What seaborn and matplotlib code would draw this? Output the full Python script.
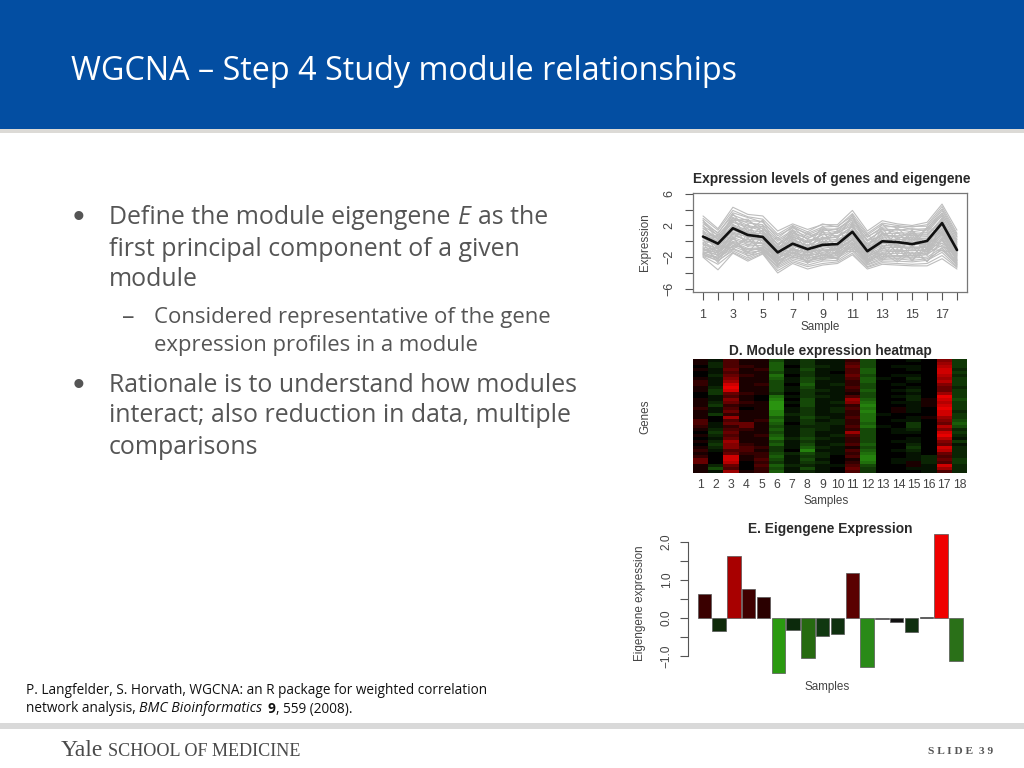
import numpy as np
import pandas as pd
import seaborn as sns
import matplotlib.pyplot as plt
from matplotlib.colors import LinearSegmentedColormap
from matplotlib.patches import Rectangle

# dados
samples = list(range(1, 19))
eigengene_line = [0.6, -0.3, 1.65, 0.8, 0.55, -1.4, -0.3, -1.0, -0.45, -0.35, 1.2, -1.25, 0.0, -0.1, -0.35, 0.05, 2.3, -1.1]
eigengene_bars = [0.63, -0.35, 1.63, 0.75, 0.55, -1.45, -0.32, -1.05, -0.47, -0.42, 1.18, -1.28, -0.03, -0.11, -0.38, 0.03, 2.2, -1.12]
bar_colors = ['#3a0000', '#0f2a0a', '#a80000', '#3f0000', '#2a0000', '#2a9a10', '#0c2a0c', '#266a10', '#103810',
              '#0f300f', '#5a0000', '#2a8a18', '#222222', '#111111', '#0f2f0f', '#000000', '#f00000', '#2a7018']

gene_rows = [
    [3.2, 1.6, 4.3, 3.4, 3.2, 1.3, 2.2, 1.5, 2.1, 2.1, 3.9, 1.3, 2.6, 2.2, 2.0, 2.4, 4.7, 1.4],
    [2.9, 1.4, 3.9, 3.1, 2.8, 0.9, 2.0, 1.2, 2.2, 1.8, 3.5, 1.0, 2.3, 2.0, 1.8, 2.1, 4.4, 1.0],
    [2.6, 1.0, 3.6, 3.0, 2.4, 0.7, 1.7, 1.0, 1.8, 1.9, 3.2, 0.8, 2.1, 1.7, 1.9, 1.9, 4.1, 0.8],
    [2.2, 1.1, 3.3, 2.6, 2.5, 0.4, 1.9, 0.8, 1.6, 1.5, 3.0, 0.5, 1.8, 1.9, 1.5, 1.6, 3.9, 0.5],
    [2.4, 0.7, 3.0, 2.3, 2.1, 0.2, 1.4, 0.6, 1.3, 1.6, 2.7, 0.6, 1.6, 1.4, 1.6, 1.3, 3.6, 0.2],
    [1.9, 0.8, 2.7, 2.5, 1.8, 0.0, 1.2, 0.3, 1.5, 1.2, 2.5, 0.2, 1.3, 1.5, 1.2, 1.5, 3.2, 0.0],
    [1.6, 0.4, 2.9, 2.0, 1.6, -0.3, 1.0, 0.4, 1.1, 1.0, 2.3, 0.0, 1.5, 1.1, 1.0, 1.1, 3.3, -0.2],
    [1.7, 0.2, 2.4, 1.7, 1.9, -0.5, 0.8, 0.0, 0.8, 1.1, 2.0, -0.3, 1.0, 1.0, 0.7, 0.8, 2.9, -0.4],
    [1.3, 0.3, 2.5, 1.9, 1.3, -0.4, 0.6, -0.2, 0.9, 0.7, 1.8, -0.5, 0.8, 0.7, 0.9, 0.9, 2.6, -0.6],
    [1.0, -0.1, 2.1, 1.4, 1.2, -0.8, 0.5, -0.1, 0.5, 0.5, 1.9, -0.6, 0.9, 0.5, 0.5, 0.6, 2.7, -0.8],
    [1.2, -0.4, 1.9, 1.2, 0.9, -0.9, 0.2, -0.5, 0.3, 0.6, 1.5, -0.8, 0.5, 0.6, 0.2, 0.3, 2.3, -1.0],
    [0.7, -0.2, 2.0, 1.0, 1.0, -1.1, 0.3, -0.6, 0.4, 0.2, 1.3, -1.0, 0.3, 0.2, 0.3, 0.4, 2.1, -0.9],
    [0.4, -0.6, 1.7, 1.1, 0.6, -1.0, 0.0, -0.8, 0.0, 0.0, 1.4, -1.2, 0.1, 0.3, -0.1, 0.0, 1.9, -1.2],
    [0.5, -0.8, 1.4, 0.7, 0.7, -1.3, -0.2, -0.9, -0.2, 0.1, 1.0, -1.1, -0.1, -0.1, -0.3, -0.2, 1.7, -1.3],
    [0.1, -0.5, 1.2, 0.5, 0.3, -1.5, -0.4, -1.1, -0.4, -0.3, 0.9, -1.4, -0.3, -0.2, -0.5, -0.1, 1.5, -1.5],
    [-0.1, -1.0, 1.0, 0.6, 0.1, -1.4, -0.6, -1.0, -0.6, -0.4, 0.7, -1.6, -0.2, -0.5, -0.4, -0.4, 1.2, -1.6],
    [-0.4, -0.9, 0.7, 0.2, 0.2, -1.8, -0.5, -1.3, -0.7, -0.7, 0.8, -1.5, -0.5, -0.6, -0.8, -0.6, 1.3, -1.8],
    [-0.3, -1.3, 0.9, 0.0, -0.2, -1.7, -0.9, -1.5, -0.9, -0.6, 0.5, -1.8, -0.7, -0.8, -0.7, -0.8, 1.0, -1.7],
    [-0.7, -1.2, 0.5, -0.2, -0.3, -2.0, -1.0, -1.4, -1.1, -0.9, 0.3, -2.0, -0.9, -0.7, -1.0, -0.7, 0.8, -2.0],
    [-0.9, -1.5, 0.3, -0.4, -0.6, -2.2, -1.1, -1.7, -1.2, -1.1, 0.1, -1.9, -1.1, -1.1, -1.2, -1.0, 0.6, -2.1],
    [-1.1, -1.4, 0.0, -0.6, -0.5, -2.1, -1.3, -1.9, -1.4, -1.0, 0.2, -2.2, -1.2, -1.3, -1.1, -1.2, 0.4, -2.3],
    [-1.0, -1.8, -0.1, -0.9, -0.8, -2.4, -1.5, -1.8, -1.5, -1.4, -0.2, -2.3, -1.4, -1.2, -1.5, -1.3, 0.1, -2.2],
    [-1.3, -1.7, -0.3, -1.1, -1.0, -2.6, -1.4, -2.1, -1.7, -1.5, -0.1, -2.5, -1.6, -1.5, -1.6, -1.5, 0.2, -2.4],
    [-1.5, -2.0, -0.5, -1.0, -0.9, -2.5, -1.7, -2.2, -1.8, -1.7, -0.4, -2.4, -1.7, -1.8, -1.8, -1.7, -0.2, -2.6],
    [-1.4, -2.2, -0.6, -1.4, -1.2, -2.8, -1.9, -2.4, -2.0, -1.8, -0.6, -2.7, -1.9, -1.9, -2.0, -1.6, -0.5, -2.7],
    [-1.7, -2.1, -0.9, -1.6, -1.1, -3.0, -2.0, -2.5, -2.1, -2.0, -0.7, -2.9, -2.1, -2.1, -2.1, -2.0, -0.8, -2.9],
    [-1.6, -2.5, -1.0, -1.8, -1.4, -3.2, -2.2, -2.7, -2.3, -2.1, -1.0, -3.0, -2.3, -2.2, -2.4, -2.2, -1.1, -3.0],
    [-1.8, -2.4, -1.2, -2.1, -1.3, -3.4, -2.4, -3.0, -2.5, -2.4, -1.2, -3.2, -2.5, -2.5, -2.6, -2.4, -1.4, -3.2],
    [-1.9, -2.9, -1.4, -2.3, -1.5, -3.7, -2.6, -3.2, -2.8, -2.6, -1.5, -3.3, -2.7, -2.8, -2.9, -2.8, -1.8, -3.3],
    [-2.0, -3.6, -1.5, -2.5, -1.6, -4.0, -2.8, -3.5, -3.0, -2.8, -1.7, -3.5, -2.9, -3.0, -3.1, -3.1, -2.2, -3.5],
    # linhas que se cruzam
    [2.0, -0.3, 3.5, 1.2, 2.7, -1.2, 1.5, -0.7, 1.9, 0.3, 3.4, -0.9, 2.2, 0.2, 1.4, -0.5, 3.0, -1.9],
    [-0.6, 0.9, 0.2, 2.2, -0.4, 0.5, -1.2, 1.1, -0.3, 1.4, -0.5, 0.9, -1.0, 1.2, -0.9, 1.8, 0.9, 0.3],
    [1.4, -1.6, 2.2, -0.7, 1.5, -2.7, 0.9, -2.3, 0.6, -1.6, 2.4, -2.6, 1.1, -1.7, 0.8, -1.8, 2.5, -2.8],
    [-1.2, -0.7, -0.8, 0.4, -1.3, -0.6, -1.6, 0.1, -1.9, -0.2, -0.9, -0.2, -2.0, 0.4, -1.9, 0.2, -0.3, -0.7],
    [0.9, 0.6, 1.5, 1.6, 0.0, -1.9, 1.3, -1.2, 1.2, -0.8, 1.2, -1.7, 1.7, -0.9, 1.1, -1.1, 1.6, -2.4],
    [-0.2, -2.7, 0.4, -1.5, 0.8, -3.1, -0.7, -2.8, -1.0, -2.3, 0.4, -2.8, -0.6, -2.4, -0.6, -2.6, 0.3, -3.1],
    [2.7, 0.1, 2.6, 2.8, 1.1, -0.7, 1.8, 0.2, 0.2, 1.3, 2.9, 0.1, 0.6, 1.7, 0.0, 1.7, 3.5, 0.6],
    [-1.5, -1.1, -0.2, -1.3, -0.7, -1.6, -2.1, -1.6, -2.4, -1.2, -1.3, -1.3, -2.4, -1.0, -2.3, -0.9, -1.2, -1.4],
    [0.2, -1.9, 1.1, -0.1, 1.4, -2.3, 0.1, -1.9, 0.1, -1.9, 1.6, -2.1, 0.4, -1.4, 0.4, -1.4, 1.1, -2.5],
    [-1.7, -0.5, -1.1, 0.9, -1.4, -1.2, -1.9, -0.4, -2.2, -0.5, -1.1, -0.7, -2.2, -0.3, -2.5, -0.3, -0.7, -1.3],
    [1.1, 0.0, 3.0, 0.3, 2.0, -1.7, 0.4, -1.5, 1.4, -1.3, 2.2, -1.5, 1.2, -0.6, 1.3, -0.9, 2.9, -1.6],
    [-0.8, -2.3, 0.6, -1.9, -0.9, -2.9, -1.4, -2.6, -1.6, -2.2, -0.3, -2.7, -1.5, -2.6, -1.4, -2.5, -0.9, -2.9],
]

heat_rows = [
    [1, -1, 3, 1, 1, -4, -1, -3, -1, -1, 2, -4, 0, 0, -1, 0, 5, -3],
    [1, -2, 3, 1, 1, -5, -1, -3, -1, -1, 3, -4, 0, 0, 0, 0, 6, -3],
    [0, -2, 3, 2, 1, -5, 0, -3, -2, -1, 4, -4, 0, -1, -1, 0, 7, -3],
    [1, -1, 4, 1, 2, -5, -1, -4, -1, -1, 3, -5, 0, 0, -1, 0, 8, -2],
    [0, -1, 3, 1, 1, -4, -1, -3, -1, 0, 3, -5, 0, 0, 0, 0, 8, -3],
    [0, -2, 4, 2, 1, -6, 0, -3, -1, -1, 4, -4, 0, -1, -1, 0, 7, -2],
    [1, -1, 5, 1, 1, -5, -1, -4, -2, -1, 3, -5, -1, 0, -2, 0, 6, -3],
    [2, -1, 6, 1, 1, -4, -1, -4, -1, -1, 2, -5, 0, 0, -1, 0, 7, -3],
    [2, -1, 8, 1, 2, -4, 0, -5, -1, -2, 2, -4, 0, -1, 0, 0, 5, -3],
    [1, -2, 9, 1, 1, -4, -1, -4, -1, -1, 3, -4, 0, 0, -1, 0, 4, -2],
    [1, -3, 8, 1, 1, -4, -1, -3, -2, -1, 2, -5, 0, -1, -2, 0, 4, -3],
    [0, -3, 4, 2, 1, -3, 0, -3, -1, -1, 1, -4, 0, 0, -1, 0, 6, -3],
    [0, -1, 3, 1, 0, -6, -1, -3, -2, -1, 3, -4, 0, -1, -2, 0, 9, -3],
    [1, -1, 5, 1, 0, -7, 0, -4, -1, -1, 6, -5, 0, 0, -2, 1, 8, -4],
    [1, -2, 4, 2, 1, -8, -1, -4, -1, -2, 5, -6, 0, -1, -1, 1, 7, -3],
    [1, -3, 2, 1, 1, -8, 0, -4, -1, -1, 2, -7, 0, 0, -1, 1, 8, -3],
    [2, -1, 3, 0, 1, -8, -1, -3, -1, -2, 3, -6, 0, 1, -1, 0, 9, -3],
    [1, -1, 4, 1, 1, -7, -1, -3, -1, -2, 2, -7, 0, 1, -1, 0, 8, -2],
    [1, -3, 2, 1, 1, -7, -2, -3, -1, -1, 2, -6, -1, 0, 0, 0, 8, -3],
    [1, 0, 6, 1, 1, -5, -1, -4, -2, -1, 3, -6, 0, 0, -1, 1, 6, -3],
    [3, 0, 3, 1, 2, -6, -1, -3, -1, -2, 2, -6, 0, -1, -1, 0, 5, -4],
    [3, -1, 4, 4, 1, -5, 0, -3, -2, -2, 2, -5, 0, 0, -3, 0, 4, -5],
    [2, -1, 2, 4, 1, -4, -1, -2, -2, -1, 3, -6, -1, 0, -3, 0, 7, -4],
    [1, -2, 3, 2, 1, -5, -1, -3, -2, -1, 2, -4, 0, -1, -2, 0, 5, -2],
    [0, -3, 4, 1, 1, -4, -1, -3, -1, -1, 6, -4, 0, -1, -1, 0, 8, -3],
    [1, -2, 3, 1, 2, -5, -1, -3, -1, -2, 3, -4, 0, 0, 0, 0, 9, -2],
    [0, -1, 4, 1, 1, -6, -2, -4, -2, -1, 2, -4, 0, 0, -1, 0, 7, -1],
    [1, -2, 6, 1, 1, -4, -1, -3, -1, -1, 2, -4, 0, -1, -1, 0, 5, -3],
    [0, -3, 5, 2, 1, -5, -1, -4, -1, -2, 3, -5, 0, 0, -2, 0, 4, -1],
    [1, -2, 5, 3, 2, -3, -1, -5, -2, -1, 1, -4, 0, 0, -3, 0, 8, -2],
    [2, -1, 3, 3, 1, -3, 0, -7, -1, -1, 3, -5, 0, -1, -2, 0, 7, -2],
    [1, 0, 4, 2, 2, -4, -2, -4, -2, -1, 2, -6, 0, 0, -1, 0, 4, -2],
    [2, 0, 8, 1, 2, -5, -1, -3, -2, 0, 3, -7, 0, 0, -1, -2, 3, -2],
    [4, 0, 8, 1, 3, -4, -1, -4, -1, 0, 1, -7, 0, -1, -1, -2, 4, -3],
    [4, 0, 7, 0, 2, -3, -1, -3, -2, 0, 2, -6, 0, -1, 1, -2, 3, -3],
    [1, -2, 4, 0, 3, -5, -2, -2, -1, -1, 3, -4, 0, 0, 1, -1, 8, -2],
    [1, -4, 3, 0, 2, -4, -1, -4, -1, 0, 4, -3, 0, 0, -1, -1, 6, -2],
    [1, -1, 6, 1, 2, -5, -1, -2, -1, 0, 3, -3, 0, 0, 0, -1, 3, -2],
]

TXT = '#555555'
R_TXT = '#444444'
W, H = 1024, 768


def px_axes(x0, y0, x1, y1):
    # caixa em pixels da imagem (origem no topo)
    return fig.add_axes([x0 / W, 1 - y1 / H, (x1 - x0) / W, (y1 - y0) / H])


sns.set_theme(style='white')
plt.rcParams['font.family'] = ['Liberation Sans', 'DejaVu Sans']
plt.rcParams['axes.unicode_minus'] = False

fig = plt.figure(figsize=(W / 100, H / 100), dpi=100, facecolor='white')

# fundo do slide
bg = fig.add_axes([0, 0, 1, 1], zorder=0)
bg.set_xlim(0, W)
bg.set_ylim(H, 0)
bg.axis('off')
bg.add_patch(Rectangle((0, 0), W, 129, color='#034ea2', lw=0))
bg.add_patch(Rectangle((0, 129), W, 4, color='#dcdad6', lw=0))
bg.add_patch(Rectangle((0, 723), W, 6, color='#d9d9d9', lw=0))

BODY = 'Open Sans'
BIG = 17.9
SMALL = 15.9
CITE = '#111111'
bg.text(71, 71, 'WGCNA – Step 4 Study module relationships', color='white', family=BODY, fontsize=23.35, va='center')
bg.text(78, 218, '•', color=TXT, family='Liberation Sans', fontsize=24, va='center', ha='center')
bg.text(109, 218, 'Define the module eigengene', color=TXT, family=BODY, fontsize=BIG, va='center')
bg.text(458, 218, 'E', color=TXT, family=BODY, style='italic', fontsize=BIG, va='center')
bg.text(478, 218, 'as the', color=TXT, family=BODY, fontsize=BIG, va='center')
bg.text(109, 249, 'first principal component of a given', color=TXT, family=BODY, fontsize=BIG, va='center')
bg.text(109, 280, 'module', color=TXT, family=BODY, fontsize=BIG, va='center')
bg.text(128, 318, '–', color=TXT, family=BODY, fontsize=18, va='center', ha='center')
bg.text(154, 318, 'Considered representative of the gene', color=TXT, family=BODY, fontsize=SMALL, va='center')
bg.text(154, 346, 'expression profiles in a module', color=TXT, family=BODY, fontsize=SMALL, va='center')
bg.text(78, 386, '•', color=TXT, family='Liberation Sans', fontsize=24, va='center', ha='center')
bg.text(109, 386, 'Rationale is to understand how modules', color=TXT, family=BODY, fontsize=BIG, va='center')
bg.text(109, 416, 'interact; also reduction in data, multiple', color=TXT, family=BODY, fontsize=BIG, va='center')
bg.text(109, 447, 'comparisons', color=TXT, family=BODY, fontsize=BIG, va='center')

bg.text(26, 690, 'P. Langfelder, S. Horvath, WGCNA: an R package for weighted correlation', color=CITE, family=BODY, fontsize=9.85, va='center')
bg.text(26, 709, 'network analysis,', color=CITE, family=BODY, fontsize=9.85, va='center')
bg.text(139, 709, 'BMC Bioinformatics', color=CITE, family=BODY, style='italic', fontsize=10.2, va='center')
bg.text(268, 709, '9', color=CITE, family=BODY, weight='bold', fontsize=9.85, va='center')
bg.text(276, 709, ', 559 (2008).', color=CITE, family=BODY, fontsize=9.85, va='center')

bg.text(61, 750, 'Yale', color='#4a4a4a', family='Liberation Serif', fontsize=17, va='center')
bg.text(108, 751, 'SCHOOL OF MEDICINE', color='#4a4a4a', family='Liberation Serif', fontsize=13.1, va='center')
bg.text(928, 751, 'S L I D E  3 9', color='#555555', family='Liberation Serif', weight='bold', fontsize=8.2, va='center')

# painel de linhas
genes_df = pd.DataFrame(gene_rows, columns=samples).rename_axis('gene').reset_index()
genes_long = genes_df.melt(id_vars='gene', var_name='sample', value_name='expr')
genes_long['sample'] = genes_long['sample'].astype(int)

ax1 = px_axes(693, 193, 967, 292)
sns.lineplot(data=genes_long, x='sample', y='expr', units='gene', estimator=None, color='#bdbdbd', lw=0.8, ax=ax1)
sns.lineplot(x=samples, y=eigengene_line, color='#111111', lw=1.9, ax=ax1)
ax1.set_xlim(0.33, 18.67)
ax1.set_ylim(-6.4, 6.1)
ax1.set_xticks(samples)
ax1.set_xticklabels([str(s) if s % 2 else '' for s in samples])
ax1.set_yticks([-6, -4, -2, 0, 2, 4, 6])
ax1.set_yticklabels(['−6', '', '−2', '', '2', '', '6'], rotation=90, va='center')
ax1.set_xlabel('')
ax1.set_ylabel('')
ax1.tick_params(length=6, width=0.8, color='#555555', labelcolor=R_TXT, labelsize=9, left=True, bottom=True, pad=6.5)
for sp in ax1.spines.values():
    sp.set_color('#777777')
    sp.set_linewidth(0.9)

# painel heatmap
heat_cmap = LinearSegmentedColormap.from_list('gbr', ['#2fa512', '#000000', '#e80000'])
ax2 = px_axes(693, 359, 967, 473)
sns.heatmap(np.array(heat_rows), cmap=heat_cmap, vmin=-9, vmax=9, cbar=False, xticklabels=samples, yticklabels=False, ax=ax2)
ax2.tick_params(axis='x', length=0, labelcolor=R_TXT, labelsize=8.8, rotation=0, pad=4)

# painel de barras
bars_df = pd.DataFrame({'sample': samples, 'value': eigengene_bars})
ax3 = px_axes(688, 530, 970, 680)
sns.barplot(data=bars_df, x='sample', y='value', hue='sample', palette=bar_colors, dodge=False, legend=False,
            saturation=1, width=0.9, edgecolor='#555555', linewidth=0.5, ax=ax3)
ax3.set_xlim(-1.1, 17.95)
ax3.set_ylim(-1.63, 2.307)
ax3.set_xticks([])
ax3.set_yticks([-1, -0.5, 0, 0.5, 1, 1.5, 2])
ax3.set_yticklabels(['−1.0', '', '0.0', '', '1.0', '', '2.0'], rotation=90, va='center')
ax3.set_xlabel('')
ax3.set_ylabel('')
ax3.patch.set_alpha(0)
ax3.tick_params(axis='y', length=6, width=0.8, color='#555555', labelcolor=R_TXT, labelsize=8.6, left=True, pad=5)
sns.despine(ax=ax3, top=True, right=True, bottom=True)
ax3.spines['left'].set_bounds(-1, 2)
ax3.spines['left'].set_color('#555555')
ax3.spines['left'].set_linewidth(0.8)

# titulos dos paineis
top = fig.add_axes([0, 0, 1, 1], zorder=5)
top.set_xlim(0, W)
top.set_ylim(H, 0)
top.axis('off')
for x, y, s in [(832, 179, 'Expression levels of genes and eigengene'), (830, 351, 'D. Module expression heatmap'), (830, 529, 'E. Eigengene Expression')]:
    top.text(x, y, s, color='#2a2a2a', weight='bold', fontsize=9.9, ha='center', va='center')
for x, y, s in [(820, 327, 'Sample'), (826, 501, 'Samples'), (827, 687, 'Samples')]:
    top.text(x, y, s, color=R_TXT, fontsize=8.4, ha='center', va='center')
for x, y, s in [(645, 242, 'Expression'), (645, 417, 'Genes'), (640, 603, 'Eigengene expression')]:
    top.text(x, y, s, color=R_TXT, fontsize=8.4, ha='center', va='center', rotation=90)

fig.savefig('out.png', dpi=100)
